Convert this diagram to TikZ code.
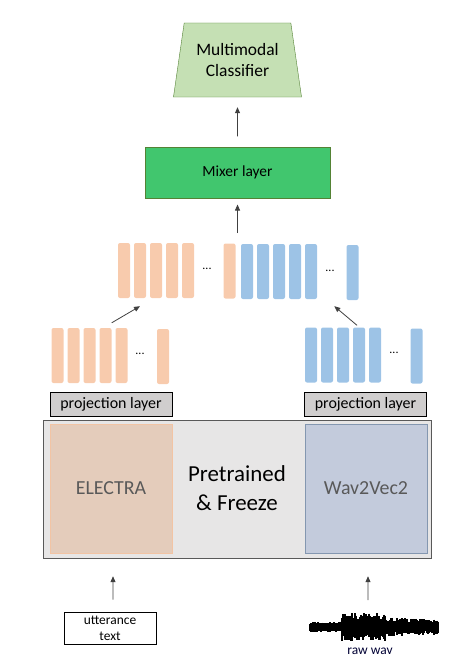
\documentclass[tikz,border=0pt]{standalone}
\usepackage{fontspec}
\setmainfont{Carlito}
\usetikzlibrary{shapes,arrows.meta}
\usetikzlibrary{positioning}

\definecolor{txtbar}{HTML}{F8CBAD}
\definecolor{wavbar}{HTML}{9DC3E6}
\definecolor{mixgreen}{HTML}{41C66E}
\definecolor{clsgreen}{HTML}{C5E0B4}
\definecolor{edgegreen}{HTML}{548235}
\definecolor{projgray}{HTML}{D0CECE}
\definecolor{frzgray}{HTML}{E7E6E6}
\definecolor{elecfill}{HTML}{E4CCBB}
\definecolor{elecedge}{HTML}{F2C4A4}
\definecolor{wvfill}{HTML}{C3CBDC}
\definecolor{wvedge}{HTML}{8497B0}

\tikzset{
  tbar/.style={fill=txtbar,rounded corners=2bp,minimum width=12bp,minimum height=55bp,inner sep=0pt},
  abar/.style={tbar,fill=wavbar},
  arr/.style={-{Triangle[width=5bp,length=6bp]},color=black!75,line width=0.8bp},
  proj/.style={draw=black,fill=projgray,line width=1bp,minimum width=122bp,minimum height=24bp,inner sep=0pt,font=\fontsize{16}{18}\selectfont},
  dots/.style={font=\fontsize{12}{12}\selectfont,inner sep=0pt}
}

\begin{document}
\begin{tikzpicture}[x=1bp,y=-1bp]
\useasboundingbox (0,0) rectangle (473,667);

\node[trapezium,trapezium stretches=true,trapezium left angle=76,trapezium right angle=76,
  minimum width=129bp,minimum height=74bp,draw=edgegreen,fill=clsgreen,align=center,
  font=\fontsize{17.5}{21}\selectfont,inner sep=0pt] (clf) at (237.5,60) {Multimodal\\Classifier};
\node[draw=edgegreen,fill=mixgreen,line width=1bp,minimum width=185bp,minimum height=51bp,
  font=\fontsize{15.5}{18}\selectfont] (mix) at (237.5,172.5) {Mixer layer};
\draw[arr] ([yshift=10bp]mix.north) -- ([yshift=-10bp]clf.south);

\foreach \i/\x in {1/124,2/140,3/156,4/172,5/188} % concatenated text vectors
  \node[tbar] (c\i) at (\x,270.5) {};
\node[tbar] (c6) at (229.5,271) {};
\foreach \i/\x in {1/247,2/263,3/279,4/295,5/311} % concatenated audio vectors
  \node[abar] (d\i) at (\x,271.5) {};
\node[abar] (d6) at (352.5,272.5) {};
\node[dots] (cdots) at (207,269) {...};
\node[dots] (ddots) at (330,271) {...};
\coordinate (cat) at (237.5,243);
\draw[arr] ([yshift=10bp]cat) -- ([yshift=-6bp]mix.south);

\foreach \i/\x in {1/57.5,2/73.5,3/89.5,4/105.5,5/121.5} % projected text vectors
  \node[tbar] (p\i) at (\x,355.5) {};
\node[tbar] (p6) at (163,356.5) {};
\node[dots] (pdots) at (140,354) {...};
\foreach \i/\x in {1/311,2/327,3/343,4/359,5/375} % projected audio vectors
  \node[abar] (q\i) at (\x,355) {};
\node[abar] (q6) at (416.5,356) {};
\node[dots] (qdots) at (394,353) {...};
\draw[arr] ([yshift=5bp]p4.north east) -- ([yshift=-8bp]c2.south);
\draw[arr] ([xshift=-2bp,yshift=2bp]q4.north) -- ([xshift=-12bp,yshift=-6bp]d6.south west);

\node[proj] (projT) at (111,404) {projection layer};
\node[proj] (projA) at (365.5,404) {projection layer};

\node[draw=black!65,fill=frzgray,line width=1bp,minimum width=387bp,minimum height=138bp] (frz) at (237.5,489) {};
\node[draw=elecedge,fill=elecfill,minimum width=122bp,minimum height=129bp,text=black!65,
  font=\fontsize{20}{24}\selectfont] (elec) at (111,488.5) {ELECTRA};
\node[draw=wvedge,fill=wvfill,minimum width=122bp,minimum height=129bp,text=black!65,
  font=\fontsize{20}{24}\selectfont] (wv) at (366,488.5) {Wav2Vec2};
\node[align=center,font=\fontsize{23}{29}\selectfont] (pf) at (237,488) {Pretrained\\\& Freeze};

\node[draw=black,fill=white,line width=1bp,minimum width=92bp,minimum height=32bp,inner sep=0pt,
  align=center,font=\fontsize{13.5}{16}\selectfont] (utt) at (110,628) {utterance\\text};
\draw[arr] ([xshift=3bp,yshift=12bp]utt.north) -- ([xshift=2bp,yshift=-23bp]elec.south);

\pgfmathsetseed{42}
\fill (310,623) rectangle (438,631); % core of the wave
\foreach \x in {310,311,...,438} { % edit here for the wave shape
  \pgfmathsetmacro\amp{\x<342 ? 5.5 : (\x<386 ? 14 : 9.5-0.04*(\x-386))}
  \pgfmathsetmacro\wup{\amp*(0.5+0.5*rnd)}
  \pgfmathsetmacro\wdn{\amp*(0.5+0.5*rnd)}
  \draw[line width=1.1bp] (\x,627-\wup) -- (\x,627+\wdn);
}
\coordinate (wav) at (368,627);
\node[font=\fontsize{13.5}{16}\selectfont,text=black!80!blue] (rawlbl) at (370,651) {raw wav};
\draw[arr] ([yshift=27bp]wav) -- ([xshift=2bp,yshift=-23bp]wv.south);
\end{tikzpicture}
\end{document}
